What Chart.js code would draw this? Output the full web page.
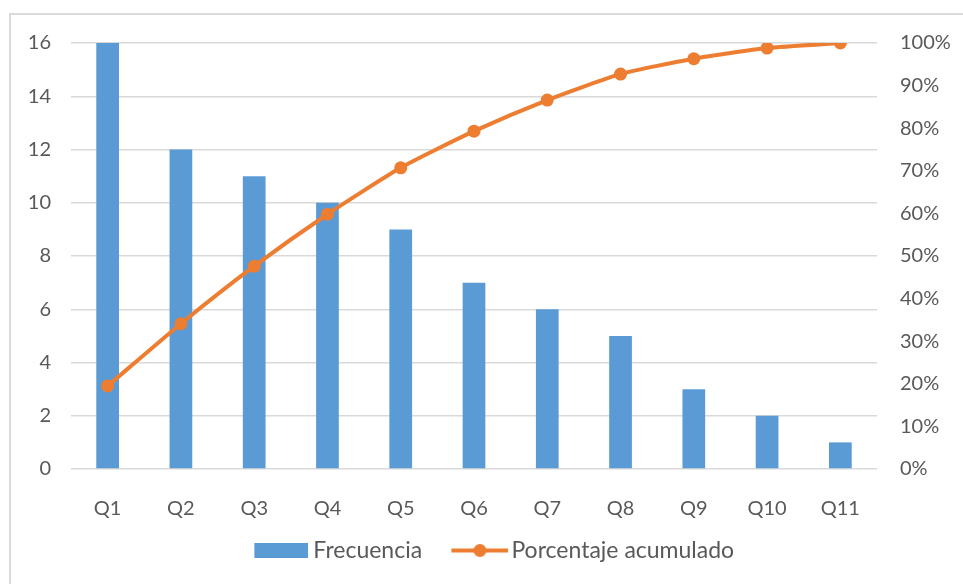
<!DOCTYPE html>
<html lang="es">
<head>
    <meta charset="UTF-8">
    <title>Pareto</title>
    <style>
        body { margin: 0; background: #fff; }
        /* light frame of the chart, cut by the window on right and bottom */
        #frame {
            position: absolute; left: 9px; top: 13px;
            width: 970px; height: 590px;
            border: 2px solid #d9d9d9; box-sizing: border-box;
        }
        #wrap { position: absolute; left: 0; top: 0; width: 963px; height: 584px; }
    </style>
</head>
<body>
    <div id="frame"></div>
    <div id="wrap"><canvas id="pareto"></canvas></div>

    <script src="https://cdn.jsdelivr.net/npm/chart.js"></script>
    <script>
        const categories = ['Q1', 'Q2', 'Q3', 'Q4', 'Q5', 'Q6', 'Q7', 'Q8', 'Q9', 'Q10', 'Q11'];
        const frecuencia = [16, 12, 11, 10, 9, 7, 6, 5, 3, 2, 1];
        const acumulado = [19.5, 34.1, 47.6, 59.8, 70.7, 79.3, 86.6, 92.7, 96.3, 98.8, 100];

        const BLUE = '#5B9BD5';
        const ORANGE = '#ED7D31';
        const TEXT = '#595959';
        const FONT = { family: 'Lato', size: 20 };
        const LEGEND_FONT = { family: 'Lato', size: 23 };

        // legend keys: drawn on the right part of the image so they sit close to the text
        function barKey() {
            const c = document.createElement('canvas');
            c.width = 69; c.height = 15;
            const g = c.getContext('2d');
            g.fillStyle = BLUE;
            g.fillRect(15, 0, 54, 15);
            return c;
        }
        function lineKey() {
            const c = document.createElement('canvas');
            c.width = 73; c.height = 15;
            const g = c.getContext('2d');
            g.strokeStyle = ORANGE; g.lineWidth = 4;
            g.beginPath(); g.moveTo(16, 7.5); g.lineTo(73, 7.5); g.stroke();
            g.fillStyle = ORANGE;
            g.beginPath(); g.arc(44.5, 7.5, 6.5, 0, Math.PI * 2); g.fill();
            return c;
        }
        const keys = [barKey(), lineKey()];
        // extra room after the first legend entry
        const legendGap = ['  ', ''];

        new Chart(document.getElementById('pareto'), {
            data: {
                labels: categories,
                datasets: [
                    {
                        type: 'bar',
                        label: 'Frecuencia',
                        data: frecuencia,
                        backgroundColor: BLUE,
                        yAxisID: 'y',
                        barPercentage: 0.31,
                        categoryPercentage: 1,
                        order: 2
                    },
                    {
                        type: 'line',
                        label: 'Porcentaje acumulado',
                        data: acumulado,
                        borderColor: ORANGE,
                        backgroundColor: ORANGE,
                        borderWidth: 4,
                        pointRadius: 6.5,
                        pointBorderWidth: 0,
                        tension: 0.2,
                        yAxisID: 'y1',
                        order: 1
                    }
                ]
            },
            options: {
                responsive: true,
                maintainAspectRatio: false,
                animation: false,
                layout: { padding: { top: 43, left: 17, right: 0, bottom: 12 } },
                plugins: {
                    tooltip: { enabled: false },
                    legend: {
                        position: 'bottom',
                        labels: {
                            font: LEGEND_FONT,
                            color: TEXT,
                            usePointStyle: true,
                            pointStyleWidth: 56,
                            padding: 10,
                            generateLabels: chart => chart.data.datasets.map((ds, i) => ({
                                text: ds.label + legendGap[i],
                                pointStyle: keys[i],
                                fontColor: TEXT,
                                datasetIndex: i,
                                lineWidth: 0
                            }))
                        }
                    }
                },
                scales: {
                    x: {
                        grid: { display: false },
                        border: { display: false },
                        ticks: { font: FONT, color: TEXT, padding: 20 },
                        afterFit: s => { s.height = 60; }
                    },
                    y: {
                        position: 'left',
                        min: 0, max: 16,
                        ticks: { stepSize: 2, font: FONT, color: TEXT, padding: 20 },
                        grid: { color: '#d9d9d9', lineWidth: 1.5, drawTicks: false },
                        border: { display: false },
                        afterFit: s => { s.width = 54; }
                    },
                    y1: {
                        position: 'right',
                        min: 0, max: 100,
                        ticks: { stepSize: 10, font: FONT, color: TEXT, padding: 23, callback: v => v + '%' },
                        grid: { display: false, drawTicks: false },
                        border: { display: false },
                        afterFit: s => { s.width = 86; }
                    }
                }
            }
        });
    </script>
</body>
</html>
